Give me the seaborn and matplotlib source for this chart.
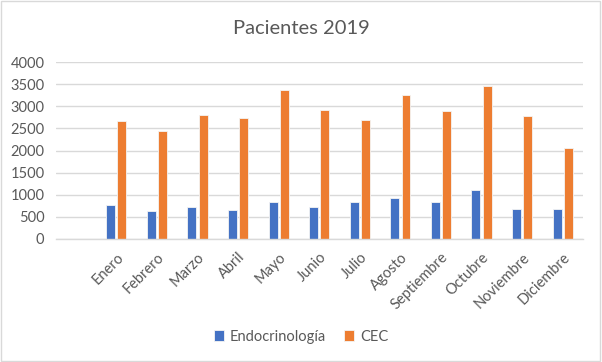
import matplotlib
matplotlib.use("Agg")
import matplotlib.pyplot as plt
import seaborn as sns
import pandas as pd
from matplotlib.patches import Rectangle

meses = ["Enero", "Febrero", "Marzo", "Abril", "Mayo", "Junio", "Julio",
         "Agosto", "Septiembre", "Octubre", "Noviembre", "Diciembre"]
endocrinologia = [768, 626, 716, 662, 829, 716, 844, 934, 844, 1115, 678, 678]
cec = [2674, 2434, 2795, 2742, 3375, 2923, 2682, 3247, 2900, 3450, 2772, 2049]
series = ["Endocrinología", "CEC"]
yticks = [0, 500, 1000, 1500, 2000, 2500, 3000, 3500, 4000]

df = pd.DataFrame({
    "Mes": meses * 2,
    "Valor": endocrinologia + cec,
    "Serie": [series[0]] * len(meses) + [series[1]] * len(meses),
})

sns.set_theme(style="white")
plt.rcParams["font.family"] = ["Lato", "DejaVu Sans"]

fig = plt.figure(figsize=(6.02, 3.62), dpi=100)
ax = fig.add_axes([0.0922, 0.3398, 0.8762, 0.4889])

sns.barplot(data=df, x="Mes", y="Valor", hue="Serie", order=meses,
            hue_order=series, palette=["#4472C4", "#ED7D31"], saturation=1,
            width=0.55, gap=0.2, ax=ax, edgecolor="#F4F4F4", linewidth=0.6,
            legend=True)

ax.set_xlim(-1.5, 11.5)
ax.set_ylim(0, 4000)
ax.set_yticks(yticks)
ax.set_yticklabels([str(v) for v in yticks], fontsize=10.5, color="#595959")
ax.grid(axis="y", color="#D9D9D9", linewidth=1.0)
ax.set_axisbelow(True)
for s in ["left", "right", "top"]:
    ax.spines[s].set_visible(False)
ax.spines["bottom"].set_color("#D9D9D9")
ax.spines["bottom"].set_linewidth(1.0)
ax.tick_params(axis="y", length=0, pad=8)
ax.tick_params(axis="x", length=0, pad=8)
ax.set_xticks(range(len(meses)))
ax.set_xticklabels(meses, rotation=45, ha="right", rotation_mode="anchor",
                   fontsize=10.5, color="#595959")
ax.set_xlabel("")
ax.set_ylabel("")

fig.text(0.5, 0.922, "Pacientes 2019", ha="center", va="center",
         fontsize=14.5, color="#595959")

handles, labels = ax.get_legend_handles_labels()
ax.legend_.remove()
fig.legend(handles, labels, loc="center", bbox_to_anchor=(0.5, 0.07),
           ncol=2, frameon=False, fontsize=10.5, labelcolor="#595959",
           handlelength=0.7, handleheight=0.7, handletextpad=0.4,
           columnspacing=1.2)

fig.patches.append(Rectangle((0.002, 0.003), 0.994, 0.994,
                             transform=fig.transFigure, fill=False,
                             edgecolor="#D9D9D9", linewidth=1.0))

fig.savefig("out.png", dpi=100)
